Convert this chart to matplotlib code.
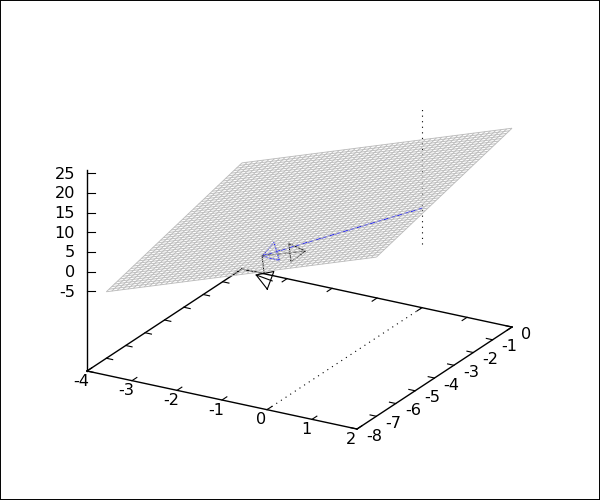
import numpy as np
import matplotlib
matplotlib.use("Agg")
import matplotlib.pyplot as plt

x_ticks = [-4, -3, -2, -1, 0, 1, 2]
y_ticks = [-8, -7, -6, -5, -4, -3, -2, -1, 0]
z_ticks = [-5, 0, 5, 10, 15, 20, 25]
z_base, z_top = -25.3, 25.8

plane_x = [-4, 2]
plane_y = [-7, 0]
plane_z_corner = 1.7    # z at x=-4, y=0
plane_slope_x = 3.93
plane_slope_y = 1.44
n_iso = 50

blue_start = (0, 0, 0)
blue_tip = (-1.465, -4.85, 0)
grey_tip = (-0.87, -4.01, 0)
link_end = (-1.0, -5.83, 0)
black_start = (-0.66, -6.2, 0)
black_tip = (-1.08, -6.05, 0)
drop_line_x = 0
drop_line_y = 0
drop_z = [-9, 25.3]


def proj(x, y, z):
    x, y, z = np.asarray(x, float), np.asarray(y, float), np.asarray(z, float)
    px = 87 + 45.0 * (x + 4) + 19.375 * (y + 8)
    py = 371 + 9.67 * (x + 4) - 12.75 * (y + 8) - 3.93 * (z - z_base)
    return px, py


def line3(ax, a, b, **kw):
    px, py = proj([a[0], b[0]], [a[1], b[1]], [a[2], b[2]])
    ax.plot(px, py, **kw)


def arrow3(ax, a, b, color, zorder):
    px, py = proj([a[0], b[0]], [a[1], b[1]], [a[2], b[2]])
    ax.plot(px, py, color=color, lw=0.8, zorder=zorder)
    ang = np.arctan2(py[0] - py[1], px[0] - px[1])
    hx, hy = [], []
    for d in (0.55, -0.55):
        hx.append(px[1] + 18 * np.cos(ang + d))
        hy.append(py[1] + 18 * np.sin(ang + d))
    ax.plot([hx[0], px[1], hx[1], hx[0]], [hy[0], py[1], hy[1], hy[0]],
            color=color, lw=0.8, zorder=zorder)


fig = plt.figure(figsize=(6, 5), dpi=100)
ax = fig.add_axes([0, 0, 1, 1])
ax.set_xlim(0, 600)
ax.set_ylim(500, 0)
ax.set_xticks([])
ax.set_yticks([])
for s in ax.spines.values():
    s.set_linewidth(1.4)

AX = dict(color="black", lw=1.0, zorder=2, solid_capstyle="projecting")
line3(ax, (-4, -8, z_base), (2, -8, z_base), **AX)
line3(ax, (2, -8, z_base), (2, 0, z_base), **AX)
line3(ax, (2, 0, z_base), (-4, 0, z_base), **AX)
line3(ax, (-4, 0, z_base), (-4, -8, z_base), **AX)
line3(ax, (-4, -8, z_base), (-4, -8, z_top), **AX)

TK = dict(color="black", lw=0.8, zorder=2)
for t in x_ticks:
    line3(ax, (t, -8, z_base), (t, -7.75, z_base), **TK)
    line3(ax, (t, 0, z_base), (t, -0.25, z_base), **TK)
for t in y_ticks:
    line3(ax, (-4, t, z_base), (-3.86, t, z_base), **TK)
    line3(ax, (2, t, z_base), (1.86, t, z_base), **TK)
for t in z_ticks:
    px, py = proj(-4, -8, t)
    ax.plot([px, px + 8], [py, py], **TK)

FS = 11.6
for t in x_ticks:
    px, py = proj(t, -8, z_base)
    ax.text(px - 6, py + 10, str(t), ha="center", va="center", fontsize=FS)
for t in y_ticks:
    px, py = proj(2, t, z_base)
    ax.text(px + 9, py + 7, str(t), ha="left", va="center", fontsize=FS)
for t in z_ticks:
    px, py = proj(-4, -8, t)
    ax.text(px - 12, py + 1, str(t), ha="right", va="center", fontsize=FS)

# dotted guide lines
px, py = proj([drop_line_x, drop_line_x], [-8, 0], [z_base, z_base])
ax.plot(px, py, color="black", lw=0.8, ls=(0, (1, 4)), zorder=2)
px, py = proj([drop_line_x, drop_line_x], [drop_line_y, drop_line_y], drop_z)
ax.plot(px, py, color="black", lw=0.8, ls=(0, (1, 4)), zorder=2)

# arrows lie beneath the surface mesh
arrow3(ax, blue_start, blue_tip, "#0000ff", 3)
arrow3(ax, blue_tip, grey_tip, "black", 3)
line3(ax, blue_tip, link_end, color="black", lw=0.8, zorder=3)
arrow3(ax, black_start, black_tip, "black", 3)

# surface mesh
xs = np.linspace(plane_x[0], plane_x[1], n_iso + 1)
ys = np.linspace(plane_y[0], plane_y[1], n_iso + 1)


def plane(x, y):
    return plane_z_corner + plane_slope_x * (x + 4) + plane_slope_y * y


MESH = dict(color="#bcbcbc", lw=0.66, zorder=4, solid_capstyle="butt")
for y0 in ys:
    e = np.array([xs[0], xs[-1]])
    px, py = proj(e, [y0, y0], plane(e, y0))
    ax.plot(px, py, **MESH)
for x0 in xs:
    e = np.array([ys[0], ys[-1]])
    px, py = proj([x0, x0], e, plane(x0, e))
    ax.plot(px, py, **MESH)

fig.savefig("out.png", dpi=100)
